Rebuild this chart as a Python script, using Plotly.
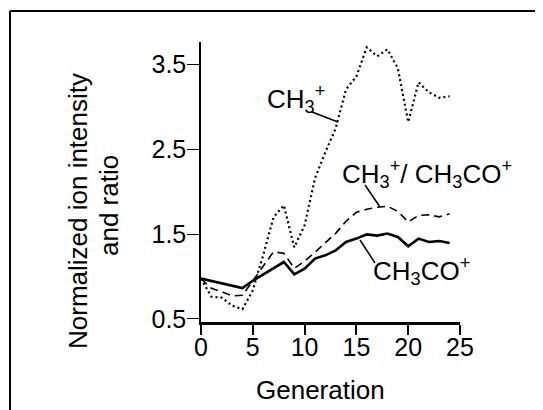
import plotly.graph_objects as go

# ---------------- data ----------------
generation = [0, 1, 2, 3, 4, 5, 6, 7, 8, 9, 10, 11, 12, 13, 14, 15, 16, 17, 18, 19, 20, 21, 22, 23, 24]

ch3 = [0.975, 0.762, 0.750, 0.656, 0.615, 0.837, 1.249, 1.697, 1.838, 1.343, 1.602,
       2.156, 2.462, 2.745, 3.204, 3.357, 3.699, 3.593, 3.675, 3.451, 2.819, 3.287,
       3.169, 3.104, 3.122]

ratio = [0.975, 0.860, 0.819, 0.772, 0.778, 0.943, 1.120, 1.290, 1.273, 1.096, 1.178,
         1.284, 1.402, 1.508, 1.650, 1.756, 1.791, 1.815, 1.827, 1.767, 1.641, 1.720,
         1.726, 1.702, 1.738]

ch3co_gen = [0, 4, 5, 6, 7, 8, 9, 10, 11, 12, 13, 14, 15, 16, 17, 18, 19, 20, 21, 22, 23, 24]
ch3co = [0.975, 0.864, 0.949, 1.025, 1.102, 1.170, 1.025, 1.092, 1.210, 1.249, 1.308,
         1.406, 1.446, 1.496, 1.481, 1.506, 1.465, 1.355, 1.446, 1.406, 1.418, 1.394]

x_ticks = [0, 5, 10, 15, 20, 25]
y_ticks = [0.5, 1.5, 2.5, 3.5]
x_range = [0, 25]
y_range = [0.4635, 3.7615]

FONT = "Arial, Liberation Sans, Helvetica, sans-serif"

# ---------------- layout geometry ----------------
# the page body has an 8px margin, so the figure is drawn 8px in from the window
OFF = 8
W, H = 543 - OFF, 410 - OFF
ML, MR, MT, MB = 193, 83, 34, 88
PW, PH = W - ML - MR, H - MT - MB


def px_x(px):
    # px: position in window pixels
    return (px - OFF - ML) / PW


def px_y(py):
    return (H - MB - (py - OFF)) / PH


fig = go.Figure()

fig.add_trace(go.Scatter(x=generation, y=ch3, mode="lines",
                         line=dict(color="black", width=2.2, dash="2px,3px"),
                         name="CH3+", showlegend=False))
fig.add_trace(go.Scatter(x=generation, y=ratio, mode="lines",
                         line=dict(color="black", width=1.6, dash="8px,5px"),
                         name="ratio", showlegend=False))
fig.add_trace(go.Scatter(x=ch3co_gen, y=ch3co, mode="lines",
                         line=dict(color="black", width=2.6),
                         name="CH3CO+", showlegend=False))

shapes = []
# outer frame (open at bottom, extends below image)
for (x0, y0, x1, y1) in [(10, 11, 541.5, 11), (10, 11, 10, 430), (541.5, 11, 541.5, 430)]:
    shapes.append(dict(type="line", xref="paper", yref="paper",
                       x0=px_x(x0), y0=px_y(y0), x1=px_x(x1), y1=px_y(y1),
                       line=dict(color="black", width=2)))
# leader lines
for (x0, y0, x1, y1) in [(312, 112, 338, 122), (365, 185, 380, 207), (360, 240, 375, 263)]:
    shapes.append(dict(type="line", xref="paper", yref="paper",
                       x0=px_x(x0), y0=px_y(y0), x1=px_x(x1), y1=px_y(y1),
                       line=dict(color="black", width=1.5)))

annotations = []
label_font = dict(family=FONT, size=26, color="black")
for text, lx, cy in [
    ("CH<sub>3</sub><sup>+</sup>", 265, 99),
    ("CH<sub>3</sub><sup>+</sup>/ CH<sub>3</sub>CO<sup>+</sup>", 340, 174),
    ("CH<sub>3</sub>CO<sup>+</sup>", 371, 271),
]:
    annotations.append(dict(text=text, xref="paper", yref="paper",
                            x=px_x(lx), y=px_y(cy), xanchor="left", yanchor="middle",
                            showarrow=False, font=label_font))

annotations.append(dict(text="Normalized ion intensity", xref="paper", yref="paper",
                        x=px_x(78), y=px_y(211), xanchor="center", yanchor="middle",
                        textangle=-90, showarrow=False, font=label_font))
annotations.append(dict(text="and ratio", xref="paper", yref="paper",
                        x=px_x(109), y=px_y(206), xanchor="center", yanchor="middle",
                        textangle=-90, showarrow=False, font=label_font))
annotations.append(dict(text="Generation", xref="paper", yref="paper",
                        x=px_x(320), y=px_y(390), xanchor="center", yanchor="middle",
                        showarrow=False, font=label_font))

fig.update_layout(
    width=W, height=H,
    margin=dict(l=ML, r=MR, t=MT, b=MB, pad=0),
    paper_bgcolor="white", plot_bgcolor="white",
    showlegend=False,
    shapes=shapes, annotations=annotations,
    font=dict(family=FONT, color="black"),
)

fig.update_xaxes(range=x_range, tickvals=x_ticks, ticktext=[str(v) for v in x_ticks],
                 showgrid=False, zeroline=False, showline=True, linecolor="black",
                 linewidth=3, ticks="outside", ticklen=10, tickwidth=1.5, tickcolor="black",
                 ticklabelstandoff=-9,
                 tickfont=dict(family=FONT, size=25, color="black"))
fig.update_yaxes(range=y_range, tickvals=y_ticks, ticktext=[str(v) for v in y_ticks],
                 showgrid=False, zeroline=False, showline=True, linecolor="black",
                 linewidth=1.5, ticks="outside", ticklen=12, tickwidth=1, tickcolor="black",
                 ticklabelstandoff=-4,
                 tickfont=dict(family=FONT, size=25, color="black"))

fig.write_html("out.html")
